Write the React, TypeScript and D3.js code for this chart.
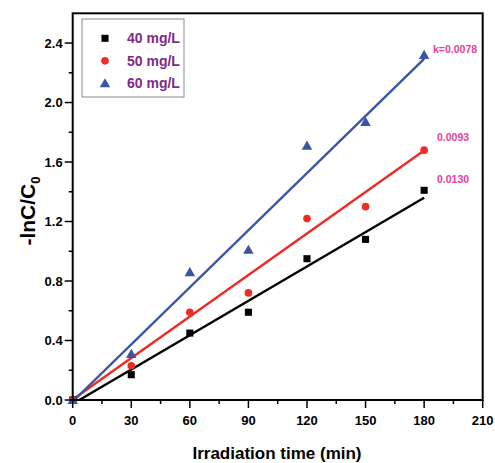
import React from "react";
import * as d3 from "d3";

const times = [0, 30, 60, 90, 120, 150, 180];
const seriesNames = ["40 mg/L", "50 mg/L", "60 mg/L"];
const values40 = [0, 0.17, 0.45, 0.59, 0.95, 1.08, 1.41];
const values50 = [0, 0.23, 0.59, 0.72, 1.22, 1.30, 1.68];
const values60 = [0, 0.31, 0.86, 1.01, 1.71, 1.87, 2.32];
const fitSlopes = [0.0077, 0.0093, 0.0128];
const fitIntercepts = [-0.026, 0.003, -0.01];
const kLabels = ["0.0130", "0.0093", "k=0.0078"];
const xTicks = [0, 30, 60, 90, 120, 150, 180, 210];
const yTicks = [0, 0.4, 0.8, 1.2, 1.6, 2.0, 2.4];

const colors = ["#000000", "#ee2b24", "#3b55a5"];
const legendColor = "#7d2a8c";
const labelColor = "#e8409a";
const font = "'Liberation Sans', Arial, sans-serif";

export default function App() {
  const W = 495, H = 463;
  const left = 72.7, right = 482.7, top = 13.3, bottom = 400;
  const x = d3.scaleLinear().domain([0, 210]).range([left, right]);
  const y = d3.scaleLinear().domain([0, 2.6]).range([bottom, top]);
  const allValues = [values40, values50, values60];
  const symbols = [d3.symbolSquare, d3.symbolCircle, d3.symbolTriangle];
  const symSizes = [50, 46, 48];

  const line = d3.line<[number, number]>().x(d => x(d[0])).y(d => y(d[1]));

  const minorX = d3.range(15, 210, 30);
  const minorY = d3.range(0.2, 2.6, 0.4);

  return (
    <svg width={W} height={H} style={{ position: "absolute", left: 0, top: 0 }}>
      <rect x={0} y={0} width={W} height={H} fill="#fff" />
      <defs>
        <clipPath id="plot">
          <rect x={left} y={top} width={right - left} height={bottom - top} />
        </clipPath>
      </defs>
      {/* fit lines */}
      <g clipPath="url(#plot)">
        {fitSlopes.map((m, i) => {
          const b = fitIntercepts[i];
          const x0 = Math.max(0, -b / m);
          const pts: [number, number][] = [[x0, m * x0 + b], [180, m * 180 + b]];
          return <path key={i} d={line(pts) || ""} stroke={colors[i]} strokeWidth={2.4} fill="none" />;
        })}
      </g>
      {/* markers */}
      {allValues.map((vals, i) =>
        vals.map((v, j) => (
          <path
            key={`${i}-${j}`}
            d={d3.symbol().type(symbols[i]).size(symSizes[i])() || ""}
            transform={`translate(${x(times[j])},${y(v) + (i === 2 ? 1 : 0)})`}
            fill={colors[i]}
          />
        ))
      )}
      {/* frame */}
      <rect x={left} y={top} width={right - left} height={bottom - top} fill="none" stroke="#000" strokeWidth={2} />
      {/* x ticks */}
      {xTicks.map(t => (
        <g key={t}>
          <line x1={x(t)} x2={x(t)} y1={bottom} y2={bottom + 8} stroke="#000" strokeWidth={1.5} />
          <text x={x(t)} y={bottom + 25} textAnchor="middle" fontFamily={font} fontWeight="bold" fontSize={13}>{t}</text>
        </g>
      ))}
      {minorX.map(t => (
        <line key={t} x1={x(t)} x2={x(t)} y1={bottom} y2={bottom + 4} stroke="#000" strokeWidth={1.5} />
      ))}
      {/* y ticks */}
      {yTicks.map(t => (
        <g key={t}>
          <line x1={left - 8} x2={left} y1={y(t)} y2={y(t)} stroke="#000" strokeWidth={1.5} />
          <text x={left - 10} y={y(t) + 4.5} textAnchor="end" fontFamily={font} fontWeight="bold" fontSize={13}>{t.toFixed(1)}</text>
        </g>
      ))}
      {minorY.map(t => (
        <line key={t} x1={left - 4} x2={left} y1={y(t)} y2={y(t)} stroke="#000" strokeWidth={1.5} />
      ))}
      {/* axis titles */}
      <text x={277} y={459} textAnchor="middle" fontFamily={font} fontWeight="bold" fontSize={17}>Irradiation time (min)</text>
      <text transform={`translate(35,211) rotate(-90)`} textAnchor="middle" fontFamily={font} fontWeight="bold" fontSize={21}>
        -lnC/C<tspan fontSize={13} dy={5}>0</tspan>
      </text>
      {/* legend */}
      <rect x={82} y={19} width={102} height={78} fill="#fff" stroke="#888" strokeWidth={1} />
      {seriesNames.map((n, i) => (
        <g key={n}>
          <path
            d={d3.symbol().type(symbols[i]).size(symSizes[i])() || ""}
            transform={`translate(105,${38.3 + i * 22.5 + (i === 2 ? 1 : 0)})`}
            fill={colors[i]}
          />
          <text x={127} y={38.3 + i * 22.5 + 5} fontFamily={font} fontWeight="bold" fontSize={14} fill={legendColor}>{n}</text>
        </g>
      ))}
      {/* k labels */}
      <text x={437} y={183} fontFamily={font} fontWeight="bold" fontSize={10.5} fill={labelColor}>{kLabels[0]}</text>
      <text x={437} y={141} fontFamily={font} fontWeight="bold" fontSize={10.5} fill={labelColor}>{kLabels[1]}</text>
      <text x={433} y={53} fontFamily={font} fontWeight="bold" fontSize={10.5} fill={labelColor}>{kLabels[2]}</text>
    </svg>
  );
}
